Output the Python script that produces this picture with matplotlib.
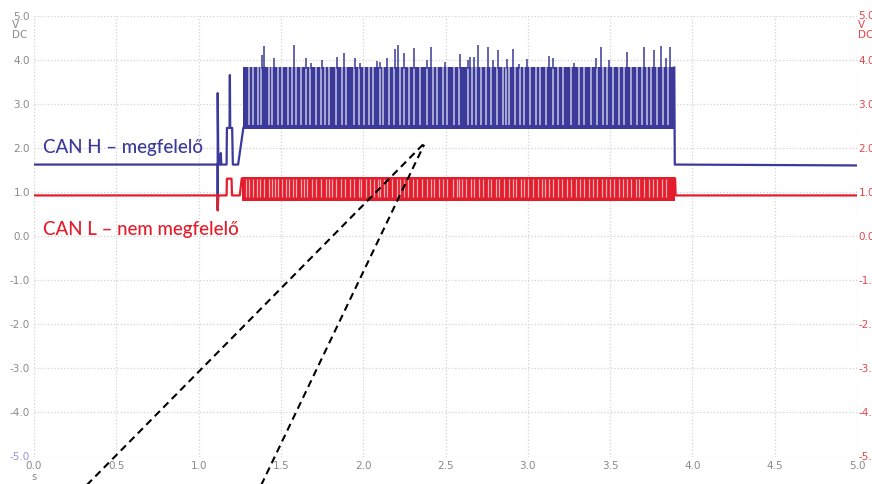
import matplotlib
matplotlib.use("Agg")
import matplotlib.pyplot as plt

BLUE = "#3b3a9a"
RED = "#e31d2b"
GRID = "#d2d2d2"
TICK_GREY = "#8a8a8a"

# ---------------------------------------------------------------------------
# Signal data (seconds / volts)
# ---------------------------------------------------------------------------

# CAN H outside the message burst
h_pre_t = [0.00, 1.112, 1.116, 1.116, 1.116, 1.120, 1.132, 1.135, 1.138,
           1.170, 1.172, 1.188, 1.190, 1.192, 1.204, 1.208, 1.240, 1.272]
h_pre_v = [1.62, 1.62, 1.62, 0.60, 3.24, 1.62, 1.62, 1.88, 1.62,
           1.62, 2.45, 2.45, 3.65, 2.45, 2.45, 1.62, 1.62, 2.45]
h_post_t = [3.890, 3.893, 5.00]
h_post_v = [3.82, 1.62, 1.60]

# CAN L outside the message burst
l_pre_t = [0.00, 1.112, 1.116, 1.116, 1.120, 1.170, 1.172, 1.200, 1.203, 1.250, 1.262]
l_pre_v = [0.92, 0.92, 0.92, 0.58, 0.92, 0.92, 1.30, 1.30, 0.92, 0.92, 1.30]
l_post_t = [3.895, 3.898, 5.00]
l_post_v = [1.30, 0.92, 0.92]

# burst windows and levels
h_burst = [1.272, 3.890]
h_low, h_high = 2.42, 3.84
l_burst = [1.262, 3.895]
l_low, l_high = 0.80, 1.33

# recessive gaps inside the bursts (visible as light stripes)
h_gaps = [1.305, 1.329, 1.360, 1.378, 1.427, 1.445, 1.482, 1.506, 1.543, 1.567,
          1.591, 1.622, 1.652, 1.677, 1.713, 1.744, 1.768, 1.793, 1.835, 1.872,
          1.896, 1.945, 1.976, 2.006, 2.037, 2.061, 2.104, 2.122, 2.159, 2.189,
          2.226, 2.250, 2.280, 2.311, 2.348, 2.390, 2.427, 2.451, 2.482, 2.512,
          2.549, 2.579, 2.634, 2.659, 2.683, 2.713, 2.744, 2.774, 2.811, 2.848,
          2.866, 2.884, 2.921, 2.951, 2.976, 3.012, 3.049, 3.073, 3.110, 3.152,
          3.183, 3.213, 3.262, 3.311, 3.341, 3.384, 3.421, 3.457, 3.482, 3.518,
          3.555, 3.585, 3.628, 3.665, 3.695, 3.726, 3.750, 3.787, 3.823, 3.854]
l_gaps = [1.287, 1.305, 1.329, 1.354, 1.372, 1.396, 1.427, 1.445, 1.463, 1.482,
          1.506, 1.530, 1.549, 1.573, 1.591, 1.622, 1.640, 1.659, 1.689, 1.713,
          1.744, 1.774, 1.793, 1.811, 1.835, 1.866, 1.890, 1.921, 1.945, 1.976,
          1.988, 2.018, 2.043, 2.067, 2.091, 2.104, 2.128, 2.146, 2.177, 2.207,
          2.226, 2.250, 2.274, 2.305, 2.329, 2.360, 2.390, 2.409, 2.433, 2.463,
          2.482, 2.512, 2.543, 2.567, 2.579, 2.598, 2.622, 2.652, 2.671, 2.701,
          2.726, 2.756, 2.774, 2.805, 2.823, 2.854, 2.884, 2.909, 2.927, 2.957,
          2.976, 3.000, 3.030, 3.061, 3.085, 3.104, 3.128, 3.152, 3.183, 3.207,
          3.238, 3.262, 3.293, 3.317, 3.341, 3.372, 3.396, 3.421, 3.451, 3.476,
          3.500, 3.524, 3.555, 3.579, 3.604, 3.628, 3.659, 3.677, 3.707, 3.738,
          3.762, 3.787, 3.817, 3.841]

# overshoot spikes on CAN H
spike_t = [1.384, 1.396, 1.457, 1.579, 1.652, 1.683, 1.750, 1.841, 1.884, 1.951,
           1.982, 2.085, 2.104, 2.146, 2.195, 2.213, 2.250, 2.311, 2.390, 2.409,
           2.494, 2.591, 2.634, 2.646, 2.671, 2.695, 2.756, 2.787, 2.817, 2.872,
           2.909, 2.945, 2.994, 3.128, 3.152, 3.280, 3.415, 3.445, 3.494, 3.604,
           3.707, 3.768, 3.811, 3.841, 3.866]
spike_v = [4.10, 4.31, 4.04, 4.33, 4.04, 3.92, 3.99, 4.06, 4.15, 4.04,
           3.92, 3.97, 3.95, 4.04, 4.24, 4.33, 4.15, 4.26, 3.99, 4.29,
           3.95, 4.13, 3.99, 4.06, 4.06, 4.33, 4.29, 3.99, 4.22, 4.01,
           4.24, 3.90, 4.01, 4.08, 4.04, 3.92, 4.04, 4.29, 3.99, 4.17,
           4.29, 4.22, 4.31, 4.04, 4.29]

# dashed callout lines (start below the axis, meet near the bus levels)
guide_x0 = [0.32, 1.38]
guide_y0 = [-5.65, -5.65]
guide_x1 = [2.37, 2.37]
guide_y1 = [2.10, 2.07]

x_ticks = [0.0, 0.5, 1.0, 1.5, 2.0, 2.5, 3.0, 3.5, 4.0, 4.5, 5.0]
y_ticks = [-5, -4, -3, -2, -1, 0, 1, 2, 3, 4, 5]

label_h = "CAN H – megfelelő"
label_l = "CAN L – nem megfelelő"


def main():
    fig = plt.figure(figsize=(8.72, 4.84), dpi=100)
    ax = fig.add_axes([34 / 872, 27.5 / 484, 823 / 872, 441 / 484])

    # CAN H
    ax.plot(h_pre_t, h_pre_v, color=BLUE, lw=1.6, zorder=3)
    ax.plot(h_post_t, h_post_v, color=BLUE, lw=1.6, zorder=3)
    ax.fill_between(h_burst, h_low, h_high, color=BLUE, lw=0, zorder=3)
    ax.vlines(h_gaps, 2.52, h_high, colors="white", lw=1.1, alpha=0.7, zorder=4)
    ax.vlines(spike_t, h_high - 0.05, spike_v, colors=BLUE, lw=1.1, zorder=4)

    # CAN L
    ax.plot(l_pre_t, l_pre_v, color=RED, lw=1.6, zorder=3)
    ax.plot(l_post_t, l_post_v, color=RED, lw=1.6, zorder=3)
    ax.fill_between(l_burst, l_low, l_high, color=RED, lw=0, zorder=3)
    ax.vlines(l_gaps, 0.88, l_high - 0.03, colors="white", lw=0.9, alpha=0.65, zorder=4)

    # dashed callouts
    for x0, y0, x1, y1 in zip(guide_x0, guide_y0, guide_x1, guide_y1):
        ax.plot([x0, x1], [y0, y1], color="black", lw=1.5,
                linestyle=(0, (3.5, 2.3)), clip_on=False, zorder=6)

    ax.text(0.055, 2.0, label_h, color=BLUE, fontsize=13.5, family="Lato",
            fontweight="medium", ha="left", va="center", zorder=5)
    ax.text(0.055, 0.14, label_l, color=RED, fontsize=13.5, family="Lato",
            fontweight="medium", ha="left", va="center", zorder=5)

    # axes formatting, scope style
    ax.set_xlim(0, 5)
    ax.set_ylim(-5, 5)
    ax.set_xticks(x_ticks)
    ax.set_xticklabels([f"{x:.1f}" for x in x_ticks])
    ax.set_yticks(y_ticks)
    ax.set_yticklabels([f"{y:.1f}" for y in y_ticks])
    ax.grid(True, color=GRID, linestyle=":", lw=0.9)
    ax.set_axisbelow(True)
    ax.tick_params(length=0, labelsize=7.5, labelcolor=TICK_GREY, pad=3)
    for lbl in ax.get_yticklabels():
        if lbl.get_text() == "-5.0":
            lbl.set_color("#9a8fd8")
    for spine in ax.spines.values():
        spine.set_visible(False)

    # right-hand scale for the red channel (cut by the picture edge, as on the scope)
    ax2 = ax.twinx()
    ax2.set_ylim(-5, 5)
    ax2.set_yticks(y_ticks)
    ax2.set_yticklabels([f"{y:.1f}" for y in y_ticks])
    ax2.tick_params(length=0, labelsize=7.5, labelcolor="#e8434a", pad=1)
    for spine in ax2.spines.values():
        spine.set_visible(False)

    # unit captions
    ax.annotate("V\nDC", xy=(0, 5), xycoords=("axes fraction", "data"),
                xytext=(-16, -3.5), textcoords="offset points",
                ha="left", va="top", fontsize=7.5, color=TICK_GREY, linespacing=1.0)
    ax.annotate("V\nDC", xy=(1, 5), xycoords=("axes fraction", "data"),
                xytext=(1, -3.5), textcoords="offset points",
                ha="left", va="top", fontsize=7.5, color="#e8434a", linespacing=1.0)
    ax.annotate("s", xy=(0, -5), xycoords="data",
                xytext=(0, -15), textcoords="offset points",
                ha="center", va="center", fontsize=7, color=TICK_GREY)

    fig.savefig("out.png", dpi=100)
    plt.close(fig)


if __name__ == "__main__":
    main()
